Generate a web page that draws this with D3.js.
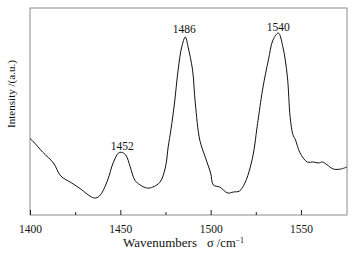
<!DOCTYPE html>
<html><head><meta charset="utf-8">
<script src="https://cdn.jsdelivr.net/npm/d3@7"></script>
<style>body{margin:0;background:#fff}svg{display:block}text{font-family:"Liberation Serif","Times New Roman",serif;fill:#111}</style>
</head><body>
<script>
const wavenumbers = [1400,1402,1407,1413,1417,1423,1428,1434,1436.5,1439,1443,1446,1449,1450.5,1453,1455.5,1458,1461,1465,1468,1472,1475,1476.5,1478,1480,1482,1484,1486,1487.5,1490,1491.5,1494,1497,1500,1501.5,1505,1509.5,1512.5,1516,1519,1522,1524,1525.5,1526.5,1529,1532,1534.5,1537.5,1540,1542.5,1544,1545.5,1547,1549.5,1553.5,1557,1559.5,1562,1564.5,1568,1572,1575.5];
const intensity = [37,35.3,30.4,25.1,18.9,15.5,12.6,8.7,8.2,9.7,16.9,25.1,30.0,30.3,29.0,23.2,16.9,14.5,13.0,13.5,15.9,23.2,32.9,41.1,54.1,70,81.2,86,81.2,70,54.1,36.2,28,20.3,14.5,13.5,10.6,11.1,11.6,15.5,23.2,31.4,41.1,47.3,61.8,74.9,84.5,87.9,81.2,66.7,47.5,39,36.2,30,25.6,25.6,25.1,25.6,24.2,22.2,22.2,23.2];
const majorTicks = [1400,1450,1500,1550];
const minorTicks = [1425,1475,1525];
const peakLabels = ["1452","1486","1540"];
const peakPos = [1450.5,1486,1537.5];
const peakVal = [30.3,86,87.9];

const W=360,H=254, L=30,R=347,T=8,B=215;
const svg=d3.select("body").append("svg").attr("width",W).attr("height",H);
const x=d3.scaleLinear().domain([1400,1575.5]).range([L,R]);
const y=d3.scaleLinear().domain([0,100]).range([B,T]);

svg.append("rect").attr("x",L).attr("y",T).attr("width",R-L).attr("height",B-T)
  .attr("fill","none").attr("stroke","#8a8a8a").attr("stroke-width",1);

const ax=svg.append("g").attr("transform",`translate(0,${B})`)
  .call(d3.axisBottom(x).tickValues(majorTicks).tickSizeInner(-5).tickSizeOuter(0).tickPadding(10).tickFormat(d3.format("d")));
ax.select(".domain").remove();
ax.selectAll(".tick line").attr("stroke","#222");
ax.selectAll(".tick text").attr("font-size","11.5px").attr("font-family","Liberation Serif").attr("fill","#111");
const mx=svg.append("g").attr("transform",`translate(0,${B})`)
  .call(d3.axisBottom(x).tickValues(minorTicks).tickSizeInner(-3).tickSizeOuter(0).tickFormat(""));
mx.select(".domain").remove();
mx.selectAll(".tick line").attr("stroke","#222");

const pts=wavenumbers.map((w,i)=>[w,intensity[i]]);
svg.append("path").datum(pts)
  .attr("d",d3.line().x(d=>x(d[0])).y(d=>y(d[1])).curve(d3.curveCatmullRom.alpha(0.5)))
  .attr("fill","none").attr("stroke","#111").attr("stroke-width",1);

svg.selectAll(".pk").data(peakLabels).enter().append("text")
  .attr("x",(d,i)=>x(peakPos[i])+ (i===0?1:i===1?-1:0)).attr("y",(d,i)=>y(peakVal[i])-(i===1?4:2))
  .attr("text-anchor","middle").attr("font-size","11.5px").text(d=>d);

svg.append("text").attr("x",123).attr("y",247).attr("font-size","12.5px")
  .attr("textLength",74).attr("lengthAdjust","spacingAndGlyphs").text("Wavenumbers");
const xt=svg.append("text").attr("x",207).attr("y",247).attr("font-size","12.5px");
xt.append("tspan").text("σ /cm");
xt.append("tspan").attr("dy","-4").attr("font-size","8px").text("−1");
svg.append("text").attr("transform","translate(15,94) rotate(-90)").attr("text-anchor","middle")
  .attr("font-size","11px").attr("textLength",68).attr("lengthAdjust","spacingAndGlyphs").text("Intensity /(a.u.)");
</script>
</body></html>
